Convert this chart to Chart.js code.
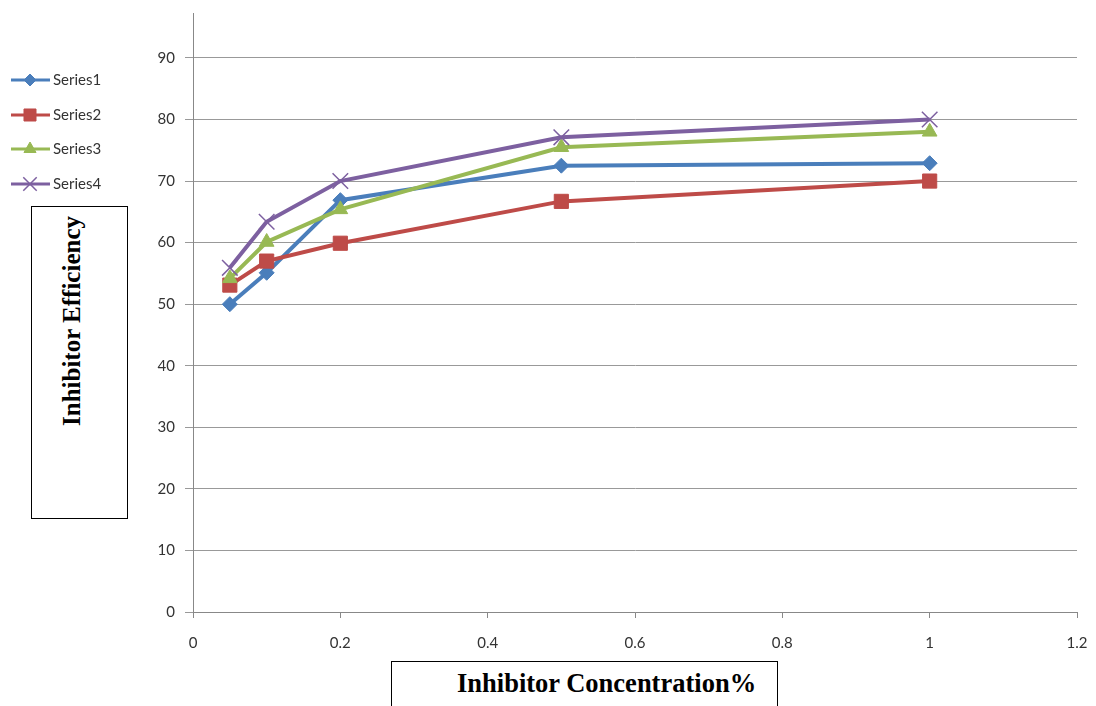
<!DOCTYPE html>
<html>
<head>
<meta charset="utf-8">
<script src="https://cdn.jsdelivr.net/npm/chart.js@4/dist/chart.umd.min.js"></script>
<style>
  body { margin: 0; background: #fff; overflow: hidden; }
  #wrap { position: relative; width: 1096px; height: 706px; }
  .box { position: absolute; border: 1.5px solid #000; background: #fff; box-sizing: border-box;
         font-family: "Liberation Serif", "Times New Roman", serif; font-weight: bold; font-size: 25px; color: #000; }
  #ybox { left: 31px; top: 206px; width: 97px; height: 313px; }
  #ybox span { position: absolute; left: 40px; top: 114px; transform: translate(-50%, -50%) rotate(-90deg); white-space: nowrap; }
  #xbox { left: 391px; top: 661px; width: 387px; height: 60px; font-size: 26.5px; }
  #xbox span { position: absolute; left: 65px; top: 6px; white-space: nowrap; }
</style>
</head>
<body>
<div id="wrap">
  <canvas id="canvas1" width="1096" height="706"></canvas>
  <div class="box" id="ybox"><span>Inhibitor Efficiency</span></div>
  <div class="box" id="xbox"><span>Inhibitor Concentration%</span></div>
</div>
<script>
/* data */
var concentration = [0.05, 0.1, 0.2, 0.5, 1];
var series1 = [50, 55.1, 66.9, 72.5, 72.9];
var series2 = [53.1, 57.0, 59.9, 66.7, 70.0];
var series3 = [54.2, 60.1, 65.4, 75.5, 78.0];
var series4 = [55.9, 63.4, 70.0, 77.1, 80.0];
var seriesNames = ['Series1', 'Series2', 'Series3', 'Series4'];
var yTicks = [0, 10, 20, 30, 40, 50, 60, 70, 80, 90];

var colors = ['#4A7EBB', '#BE4B48', '#98B954', '#7D60A0'];
var styles = ['rectRot', 'rect', 'triangle', 'crossRot'];
var radii = [7.5, 10, 8.5, 11];

function toPoints(vals) {
  var pts = [];
  for (var i = 0; i < concentration.length; i++) {
    pts.push({ x: concentration[i], y: vals[i] });
  }
  return pts;
}

var allSeries = [series1, series2, series3, series4];
var datasets = [];
for (var s = 0; s < allSeries.length; s++) {
  datasets.push({
    label: seriesNames[s],
    data: toPoints(allSeries[s]),
    borderColor: colors[s],
    backgroundColor: colors[s],
    borderWidth: 4,
    pointStyle: styles[s],
    pointRadius: radii[s],
    pointBorderWidth: s == 3 ? 1.5 : 1,
    pointBackgroundColor: colors[s],
    pointBorderColor: colors[s],
    order: 4 - s,
    tension: 0
  });
}

/* legend on the left, excel style (line + marker) */
var sideLegend = {
  id: 'sideLegend',
  afterDraw: function (chart) {
    var ctx = chart.ctx;
    var ys = [80, 115, 149, 184];
    chart.data.datasets.forEach(function (ds, i) {
      var y = ys[i];
      ctx.save();
      ctx.strokeStyle = ds.borderColor;
      ctx.lineWidth = 3;
      ctx.beginPath();
      ctx.moveTo(11, y);
      ctx.lineTo(50, y);
      ctx.stroke();
      ctx.fillStyle = ds.backgroundColor;
      ctx.strokeStyle = ds.borderColor;
      ctx.lineWidth = ds.pointBorderWidth;
      Chart.helpers.drawPoint(ctx, { pointStyle: ds.pointStyle, radius: ds.pointRadius - 1.5, rotation: 0, borderWidth: ds.pointBorderWidth }, 30, y);
      ctx.fillStyle = '#333';
      ctx.font = '15px Lato, "Open Sans", sans-serif';
      ctx.textBaseline = 'middle';
      ctx.fillText(ds.label, 53, y);
      ctx.restore();
    });
  }
};

var ctx = document.getElementById('canvas1').getContext('2d');

var myChart = new Chart(ctx, {
  type: 'line',
  data: { datasets: datasets },
  plugins: [sideLegend],
  options: {
    responsive: false,
    animation: false,
    layout: { padding: { top: 13, right: 19, left: 0, bottom: 0 } },
    plugins: { legend: { display: false }, tooltip: { enabled: false } },
    scales: {
      x: {
        type: 'linear',
        min: 0,
        max: 1.2,
        grid: { drawOnChartArea: false, color: '#888', tickLength: 6 },
        border: { color: '#888', width: 1 },
        ticks: {
          stepSize: 0.2,
          padding: 16,
          color: '#333',
          font: { family: 'Lato, "Open Sans", sans-serif', size: 15 },
          maxRotation: 0,
          callback: function (v) { return Math.round(v * 10) / 10; }
        },
        afterFit: function (scale) {
          scale.height = 94;
          scale.paddingLeft = 0;
          scale.paddingRight = 0;
        }
      },
      y: {
        min: 0,
        max: 97.3,
        afterBuildTicks: function (scale) {
          scale.ticks = yTicks.map(function (v) { return { value: v }; });
        },
        grid: { color: '#999', tickLength: 8 },
        border: { color: '#888', width: 1 },
        ticks: {
          padding: 10,
          color: '#333',
          font: { family: 'Lato, "Open Sans", sans-serif', size: 15 }
        },
        afterFit: function (scale) {
          scale.width = 193;
          scale.paddingTop = 0;
          scale.paddingBottom = 0;
        }
      }
    }
  }
});
</script>
</body>
</html>
